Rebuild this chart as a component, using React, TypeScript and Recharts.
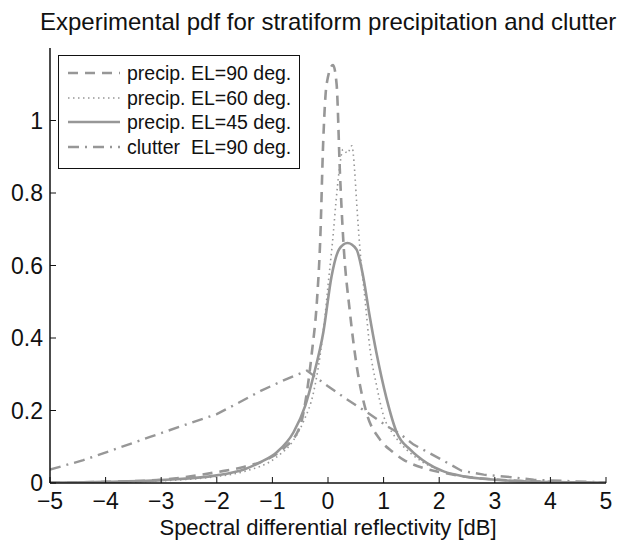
import React from 'react';
import { LineChart, Line, XAxis, YAxis, Legend, Label } from 'recharts';

const X_TICKS = [-5, -4, -3, -2, -1, 0, 1, 2, 3, 4, 5];
const Y_TICKS = [0, 0.2, 0.4, 0.6, 0.8, 1];

const el90X = [-5, -4, -3, -2, -1.5, -1.1, -0.8, -0.5, -0.38, -0.29, -0.2, -0.14, -0.085, -0.025, 0.09, 0.155, 0.215, 0.275, 0.395, 0.515, 0.69, 0.93, 1.17, 1.36, 1.72, 2.08, 2.44, 3, 4, 5];
const el90Y = [0.001, 0.003, 0.009, 0.03, 0.045, 0.065, 0.095, 0.158, 0.25, 0.36, 0.5, 0.67, 0.946, 1.1, 1.153, 1.1, 0.855, 0.67, 0.47, 0.324, 0.195, 0.121, 0.085, 0.064, 0.041, 0.028, 0.018, 0.01, 0.003, 0.001];

const el60X = [-5, -4, -3, -2, -1.5, -0.92, -0.62, -0.44, -0.26, -0.144, -0.054, 0.006, 0.096, 0.14, 0.2, 0.27, 0.35, 0.43, 0.48, 0.515, 0.575, 0.665, 0.755, 0.874, 1.0, 1.15, 1.3, 1.5, 1.7, 2, 2.4, 3, 4, 5];
const el60Y = [0.001, 0.002, 0.006, 0.018, 0.032, 0.072, 0.118, 0.17, 0.25, 0.35, 0.46, 0.553, 0.69, 0.77, 0.86, 0.92, 0.91, 0.93, 0.86, 0.774, 0.645, 0.508, 0.37, 0.269, 0.185, 0.14, 0.11, 0.08, 0.058, 0.036, 0.02, 0.009, 0.003, 0.001];

const el45X = [-5, -4, -3, -2, -1.5, -1.22, -0.92, -0.62, -0.41, -0.26, -0.084, 0.066, 0.2, 0.35, 0.51, 0.63, 0.75, 0.87, 1.05, 1.24, 1.48, 1.78, 2.08, 2.38, 3, 3.6, 4.3, 5];
const el45Y = [0.001, 0.003, 0.008, 0.021, 0.038, 0.057, 0.085, 0.14, 0.213, 0.296, 0.416, 0.572, 0.645, 0.662, 0.645, 0.572, 0.46, 0.36, 0.235, 0.138, 0.092, 0.055, 0.032, 0.02, 0.009, 0.004, 0.002, 0.001];

const clutterX = [-5, -4.4, -3.8, -3.2, -2.6, -2, -1.6, -1.2, -0.8, -0.38, 0, 0.33, 0.7, 1.05, 1.3, 1.54, 2.0, 2.4, 2.8, 3.3, 3.7, 4.2, 4.7, 5];
const clutterY = [0.037, 0.063, 0.095, 0.127, 0.159, 0.19, 0.222, 0.255, 0.283, 0.31, 0.267, 0.232, 0.195, 0.158, 0.135, 0.106, 0.068, 0.034, 0.023, 0.016, 0.009, 0.006, 0.003, 0.002];

const zip = (xs: number[], ys: number[]) => xs.map((x, i) => ({ x, y: ys[i] }));

const GRAY = '#979797';
const FONT = '"Liberation Sans", Arial, Helvetica, sans-serif';

const SERIES = [
  { name: 'precip. EL=90 deg.', data: zip(el90X, el90Y), dash: '10 7', width: 2.6, type: 'monotone' },
  { name: 'precip. EL=60 deg.', data: zip(el60X, el60Y), dash: '1.5 3.5', width: 1.6, type: 'monotone' },
  { name: 'precip. EL=45 deg.', data: zip(el45X, el45Y), dash: undefined, width: 2.6, type: 'monotone' },
  { name: 'clutter  EL=90 deg.', data: zip(clutterX, clutterY), dash: '11 6 2 6', width: 2.4, type: 'linear' },
];

const fmt = (v: number) => (v < 0 ? '\u2212' + Math.abs(v) : String(v));

const LegendBox = () => (
  <div
    style={{
      border: '1.5px solid #111',
      background: '#fff',
      padding: '5px 8px 9px 9px',
      fontFamily: FONT,
      fontSize: 19.5,
      color: '#111',
    }}
  >
    {SERIES.map((s) => (
      <div
        key={s.name}
        style={{ display: 'flex', alignItems: 'center', whiteSpace: 'pre', height: 24.5, lineHeight: '24.5px' }}
      >
        <svg width={52} height={10} style={{ marginRight: 7 }}>
          <line x1={0} y1={5} x2={52} y2={5} stroke={GRAY} strokeWidth={s.width} strokeDasharray={s.dash} />
        </svg>
        <span>{s.name}</span>
      </div>
    ))}
  </div>
);

export default function App() {
  return (
    <div style={{ position: 'relative', width: 620, height: 532, background: '#fff' }}>
      <div
        style={{
          position: 'absolute',
          top: 0,
          left: 32,
          width: 576,
          textAlign: 'center',
          fontFamily: FONT,
          fontSize: 24,
          color: '#111',
          whiteSpace: 'nowrap',
        }}
      >
        Experimental pdf for stratiform precipitation and clutter
      </div>
      <LineChart width={620} height={532} margin={{ top: 40, right: 22, bottom: 0, left: 2 }}>
        <XAxis
          dataKey="x"
          type="number"
          domain={[-5, 5]}
          ticks={X_TICKS}
          allowDataOverflow
          height={57}
          tickSize={-6}
          tickMargin={16}
          tickFormatter={fmt}
          axisLine={{ stroke: '#111', strokeWidth: 1.5 }}
          tickLine={{ stroke: '#111', strokeWidth: 1 }}
          tick={{ fill: '#111', fontSize: 23, fontFamily: FONT }}
          interval={0}
        >
          <Label
            value="Spectral differential reflectivity [dB]"
            position="insideBottom"
            offset={5}
            style={{ fill: '#111', fontSize: 22, fontFamily: FONT }}
          />
        </XAxis>
        <XAxis
          xAxisId="top"
          orientation="top"
          dataKey="x"
          type="number"
          domain={[-5, 5]}
          ticks={X_TICKS}
          allowDataOverflow
          height={0}
          tickSize={-6}
          tick={false}
          axisLine={{ stroke: '#111', strokeWidth: 1.5 }}
          tickLine={{ stroke: '#111', strokeWidth: 1 }}
          interval={0}
        />
        <YAxis
          type="number"
          domain={[0, 1.2]}
          ticks={Y_TICKS}
          allowDataOverflow
          width={40}
          tickSize={-6}
          tickMargin={13}
          axisLine={{ stroke: '#111', strokeWidth: 1.5 }}
          tickLine={{ stroke: '#111', strokeWidth: 1 }}
          tick={{ fill: '#111', fontSize: 23, fontFamily: FONT }}
          interval={0}
        />
        <YAxis
          yAxisId="right"
          orientation="right"
          type="number"
          domain={[0, 1.2]}
          ticks={Y_TICKS}
          allowDataOverflow
          width={0}
          tickSize={-6}
          tick={false}
          axisLine={{ stroke: '#111', strokeWidth: 1.5 }}
          tickLine={{ stroke: '#111', strokeWidth: 1 }}
          interval={0}
        />
        {SERIES.map((s) => (
          <Line
            key={s.name}
            name={s.name}
            data={s.data}
            dataKey="y"
            type={s.type as any}
            stroke={GRAY}
            strokeWidth={s.width}
            strokeDasharray={s.dash}
            dot={false}
            activeDot={false}
            isAnimationActive={false}
          />
        ))}
        <Legend
          layout="vertical"
          align="center"
          verticalAlign="middle"
          wrapperStyle={{ left: 50, top: 47, width: 'auto' }}
          content={() => <LegendBox />}
        />
      </LineChart>
    </div>
  );
}
